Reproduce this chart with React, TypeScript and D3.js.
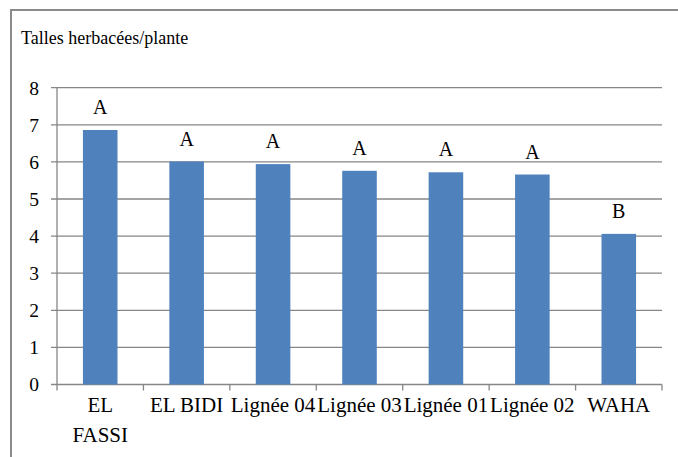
import React from "react";
import * as d3 from "d3";

const categories: string[][] = [
  ["EL", "FASSI"],
  ["EL BIDI"],
  ["Lignée 04"],
  ["Lignée 03"],
  ["Lignée 01"],
  ["Lignée 02"],
  ["WAHA"],
];
const values: number[] = [6.86, 6.01, 5.94, 5.76, 5.72, 5.66, 4.06];
const groups: string[] = ["A", "A", "A", "A", "A", "A", "B"];
const yTicks: number[] = [0, 1, 2, 3, 4, 5, 6, 7, 8];
const title = "Talles herbacées/plante";

const W = 678;
const H = 457;
const FONT = "Liberation Serif, DejaVu Serif, serif";
const GRID = "#868686";
const BAR = "#4f81bd";

export default function App() {
  const keys = categories.map((c) => c.join(" "));
  const x = d3
    .scaleBand<string>()
    .domain(keys)
    .range([57, 662])
    .paddingInner(0.6)
    .paddingOuter(0.3);
  const y = d3.scaleLinear().domain([0, 8]).range([384.5, 87.7]);
  const step = x.step();
  const left = x.range()[0];
  const txt = { fontFamily: FONT };

  return (
    <svg
      width={W}
      height={H}
      style={{ position: "absolute", left: 0, top: 0, display: "block", background: "#fff", fontFamily: FONT }}
    >
      {/* chart frame */}
      <rect x={11} y={10} width={720} height={520} fill="none" stroke="#8a8a8a" strokeWidth={2} />

      <text x={21} y={44} style={txt} fontSize={18} fill="#000">
        {title}
      </text>

      {/* horizontal gridlines and y ticks */}
      {yTicks.map((t) => (
        <g key={t}>
          <line x1={51} x2={662} y1={y(t)} y2={y(t)} stroke={GRID} strokeWidth={1.3} />
          <text x={39} y={y(t)} dy="0.35em" textAnchor="end" style={txt} fontSize={19.5} fill="#000">
            {t}
          </text>
        </g>
      ))}

      {/* y axis */}
      <line x1={57} x2={57} y1={y(8)} y2={y(0)} stroke={GRID} strokeWidth={1.3} />

      {/* category tick marks */}
      {d3.range(keys.length + 1).map((i) => (
        <line
          key={i}
          x1={left + i * step}
          x2={left + i * step}
          y1={y(0)}
          y2={y(0) + 6}
          stroke={GRID}
          strokeWidth={1.3}
        />
      ))}

      {/* bars */}
      {values.map((v, i) => (
        <rect
          key={keys[i]}
          x={x(keys[i])!}
          y={y(v)}
          width={x.bandwidth()}
          height={y(0) - y(v)}
          fill={BAR}
        />
      ))}

      {/* significance letters */}
      {values.map((v, i) => (
        <text
          key={"g" + i}
          x={x(keys[i])! + x.bandwidth() / 2}
          y={y(v) - 16}
          textAnchor="middle"
          style={txt}
          fontSize={20}
          fill="#000"
        >
          {groups[i]}
        </text>
      ))}

      {/* category labels */}
      {categories.map((lines, i) => (
        <text
          key={"c" + i}
          x={x(keys[i])! + x.bandwidth() / 2}
          y={412}
          textAnchor="middle"
          style={txt}
          fontSize={21}
          fill="#000"
        >
          {lines.map((ln, j) => (
            <tspan key={j} x={x(keys[i])! + x.bandwidth() / 2} dy={j === 0 ? 0 : 29.5}>
              {ln}
            </tspan>
          ))}
        </text>
      ))}
    </svg>
  );
}
